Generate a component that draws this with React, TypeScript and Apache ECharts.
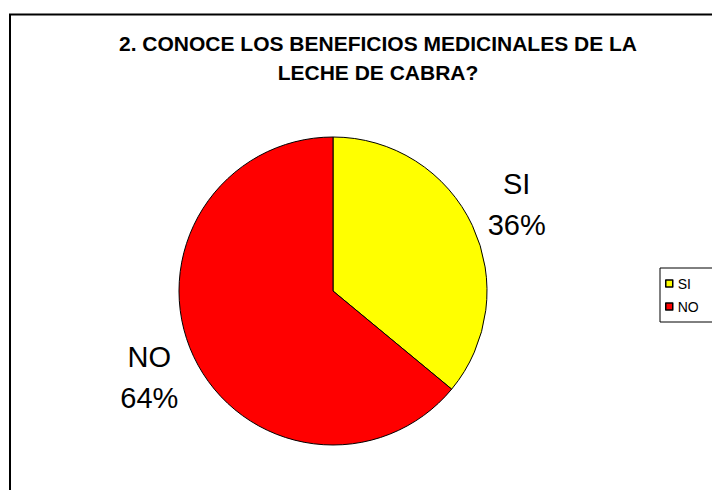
import React, { useEffect, useRef } from "react";
import * as echarts from "echarts";

const titleLines = ["2. CONOCE LOS BENEFICIOS MEDICINALES DE LA", "LECHE DE CABRA?"];
const categories = ["SI", "NO"];
const values = [36, 64];
const colors = ["#FFFF00", "#FF0000"];

const FONT = "'Liberation Sans', Arial, sans-serif";

export default function App() {
  const ref = useRef<HTMLDivElement>(null);
  useEffect(() => {
    if (!ref.current) return;
    const chart = echarts.init(ref.current, undefined, { renderer: "svg" });
    const data = categories.map((c, i) => ({ name: c, value: values[i], itemStyle: { color: colors[i] } }));
    chart.setOption({
      animation: false,
      backgroundColor: "#ffffff",
      title: {
        text: titleLines.join("\n"),
        left: 378,
        textAlign: "center",
        top: 29,
        padding: 0,
        textStyle: { fontFamily: FONT, fontWeight: "bold", fontSize: 21, lineHeight: 29, color: "#000" },
      },
      legend: {
        orient: "vertical",
        left: 660,
        top: 268,
        padding: [8, 40, 8, 5],
        borderColor: "#000",
        borderWidth: 1,
        itemWidth: 7,
        itemHeight: 7,
        itemGap: 8,
        icon: "rect",
        selectedMode: false,
        data: categories.map((c, i) => ({ name: c, itemStyle: { color: colors[i], borderColor: "#000", borderWidth: 1.5 } })),
        textStyle: { fontFamily: FONT, fontSize: 14, lineHeight: 15, color: "#000" },
      },
      graphic: [
        {
          type: "rect",
          shape: { x: 10, y: 14.5, width: 800, height: 600 },
          style: { fill: "none", stroke: "#000", lineWidth: 2 },
          silent: true,
        },
      ],
      series: [
        {
          type: "pie",
          center: [333, 291],
          radius: [0, 154],
          startAngle: 90,
          clockwise: true,
          label: { show: false },
          labelLine: { show: false },
          itemStyle: { borderColor: "#000", borderWidth: 1 },
          emphasis: { disabled: true },
          data,
        },
        {
          type: "pie",
          center: [333, 291],
          radius: [154, 246],
          startAngle: 90,
          clockwise: true,
          silent: true,
          label: {
            show: true,
            position: "inside",
            formatter: "{b}\n{d}%",
            fontFamily: FONT,
            fontSize: 29,
            lineHeight: 41,
            color: "#000",
            align: "center",
          },
          labelLine: { show: false },
          itemStyle: { color: "rgba(0,0,0,0)", borderWidth: 0 },
          emphasis: { disabled: true },
          data: categories.map((c, i) => ({ name: c, value: values[i] })),
        },
      ],
    });
    return () => chart.dispose();
  }, []);
  return <div ref={ref} style={{ position: "fixed", left: 0, top: 0, width: 712, height: 490 }} />;
}
